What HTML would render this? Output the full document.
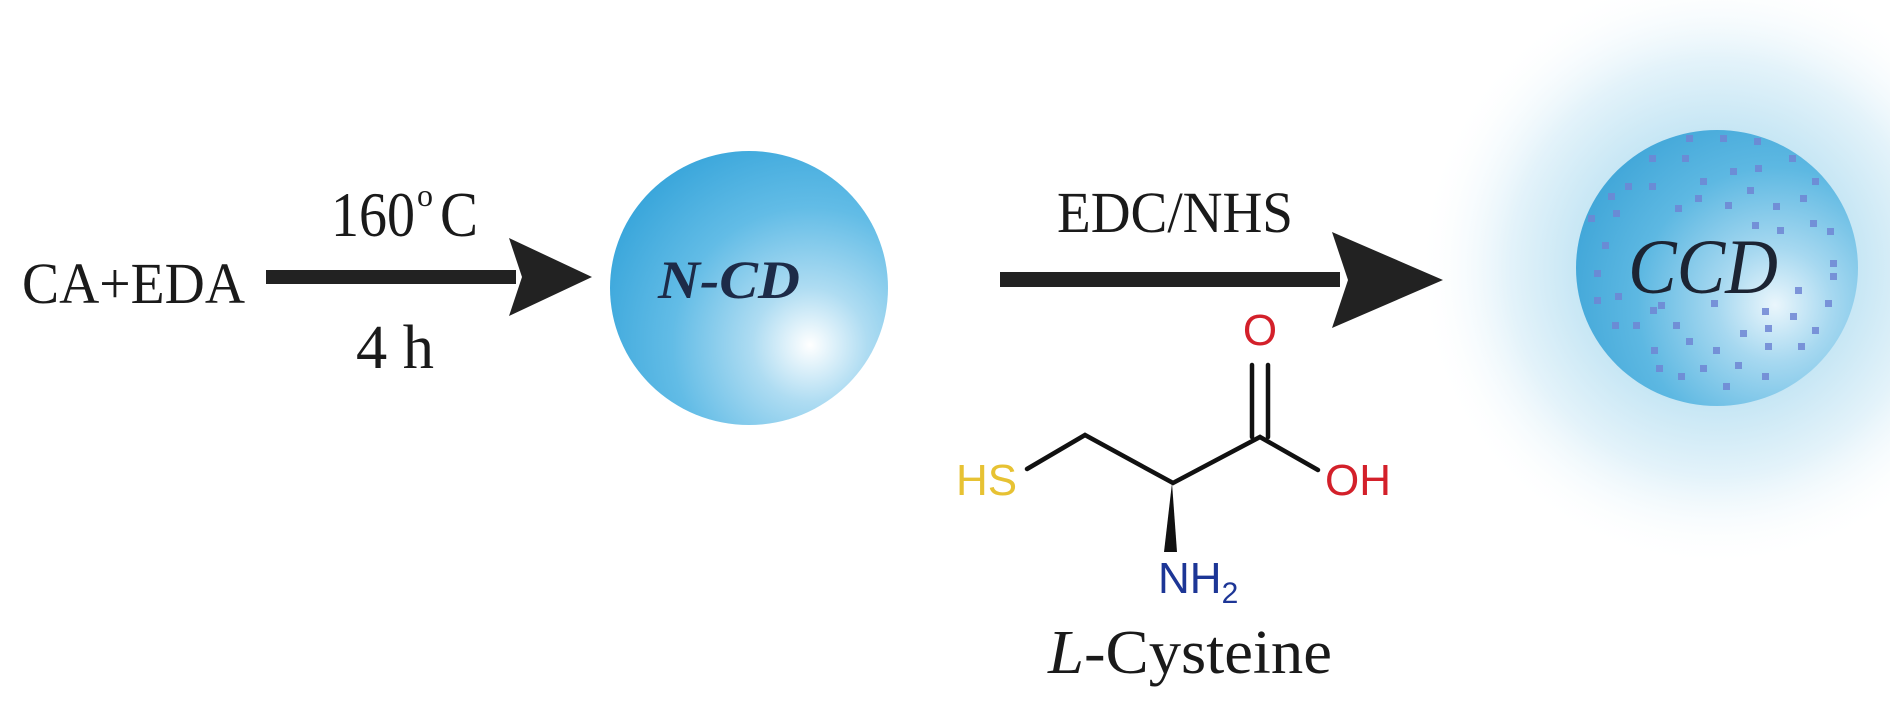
<!DOCTYPE html>
<html><head><meta charset="utf-8"><style>html,body{margin:0;padding:0;background:#fff;}svg{display:block}</style></head>
<body>
<svg width="1890" height="709" viewBox="0 0 1890 709" xmlns="http://www.w3.org/2000/svg">
<defs>
<radialGradient id="g1" cx="810" cy="345" r="230" gradientUnits="userSpaceOnUse">
<stop offset="0" stop-color="#ffffff"/><stop offset="0.25" stop-color="#aedcf2"/><stop offset="0.6" stop-color="#62bce6"/><stop offset="1" stop-color="#36a4da"/></radialGradient>
<radialGradient id="g2" cx="1775" cy="305" r="230" gradientUnits="userSpaceOnUse">
<stop offset="0" stop-color="#eaf6fc"/><stop offset="0.25" stop-color="#a6d8f0"/><stop offset="0.6" stop-color="#5db8e2"/><stop offset="1" stop-color="#3aa2d6"/></radialGradient>
<radialGradient id="halo" cx="1717" cy="268" r="300" gradientUnits="userSpaceOnUse">
<stop offset="0.4" stop-color="#bfe3f3"/><stop offset="0.7" stop-color="#e4f3fa"/><stop offset="1" stop-color="#ffffff" stop-opacity="0"/></radialGradient>
</defs>
<circle cx="1717" cy="268" r="300" fill="url(#halo)"/>
<g font-family="Liberation Serif, serif" fill="#1a1a1a">
<text x="22" y="303" font-size="58" textLength="223" lengthAdjust="spacingAndGlyphs">CA+EDA</text>
<text x="331" y="236" font-size="64" textLength="84" lengthAdjust="spacingAndGlyphs">160</text>
<text x="417" y="206" font-size="32">o</text>
<text x="440" y="236" font-size="64" textLength="38" lengthAdjust="spacingAndGlyphs">C</text>
<text x="356" y="368" font-size="62" textLength="78" lengthAdjust="spacingAndGlyphs">4 h</text>
<text x="1057" y="232" font-size="58" textLength="236" lengthAdjust="spacingAndGlyphs">EDC/NHS</text>
<text x="1048" y="673" font-size="62" textLength="284" lengthAdjust="spacingAndGlyphs"><tspan font-style="italic">L</tspan>-Cysteine</text>
</g>
<rect x="266" y="270" width="250" height="14" fill="#222"/>
<polygon points="509,238 592,277 509,316 522,277" fill="#222"/>
<rect x="1000" y="272" width="340" height="15" fill="#222"/>
<polygon points="1332,232 1443,280 1332,328 1348,280" fill="#222"/>
<ellipse cx="749" cy="288" rx="139" ry="137" fill="url(#g1)"/>
<text x="658" y="298" font-family="Liberation Serif, serif" font-style="italic" font-weight="bold" font-size="54" fill="#1d2b48" textLength="142" lengthAdjust="spacingAndGlyphs">N-CD</text>
<ellipse cx="1717" cy="268" rx="141" ry="138" fill="url(#g2)"/>
<g fill="#6f86d4" opacity="0.85">
<rect x="1686" y="135" width="7" height="7"/><rect x="1720" y="135" width="7" height="7"/><rect x="1754" y="138" width="7" height="7"/><rect x="1649" y="155" width="7" height="7"/><rect x="1682" y="155" width="7" height="7"/><rect x="1789" y="155" width="7" height="7"/><rect x="1730" y="168" width="7" height="7"/><rect x="1755" y="165" width="7" height="7"/><rect x="1625" y="183" width="7" height="7"/><rect x="1649" y="183" width="7" height="7"/><rect x="1700" y="178" width="7" height="7"/><rect x="1812" y="178" width="7" height="7"/><rect x="1608" y="193" width="7" height="7"/><rect x="1747" y="187" width="7" height="7"/><rect x="1695" y="195" width="7" height="7"/><rect x="1800" y="195" width="7" height="7"/><rect x="1613" y="210" width="7" height="7"/><rect x="1675" y="205" width="7" height="7"/><rect x="1725" y="202" width="7" height="7"/><rect x="1773" y="203" width="7" height="7"/><rect x="1588" y="215" width="7" height="7"/><rect x="1752" y="222" width="7" height="7"/><rect x="1777" y="227" width="7" height="7"/><rect x="1810" y="220" width="7" height="7"/><rect x="1827" y="228" width="7" height="7"/><rect x="1602" y="242" width="7" height="7"/><rect x="1830" y="260" width="7" height="7"/><rect x="1830" y="273" width="7" height="7"/><rect x="1594" y="270" width="7" height="7"/><rect x="1795" y="287" width="7" height="7"/><rect x="1615" y="293" width="7" height="7"/><rect x="1594" y="297" width="7" height="7"/><rect x="1711" y="300" width="7" height="7"/><rect x="1825" y="300" width="7" height="7"/><rect x="1762" y="308" width="7" height="7"/><rect x="1790" y="313" width="7" height="7"/><rect x="1650" y="307" width="7" height="7"/><rect x="1658" y="302" width="7" height="7"/><rect x="1612" y="322" width="7" height="7"/><rect x="1633" y="322" width="7" height="7"/><rect x="1673" y="322" width="7" height="7"/><rect x="1765" y="325" width="7" height="7"/><rect x="1740" y="330" width="7" height="7"/><rect x="1812" y="327" width="7" height="7"/><rect x="1686" y="338" width="7" height="7"/><rect x="1651" y="347" width="7" height="7"/><rect x="1713" y="347" width="7" height="7"/><rect x="1765" y="343" width="7" height="7"/><rect x="1798" y="343" width="7" height="7"/><rect x="1656" y="365" width="7" height="7"/><rect x="1700" y="365" width="7" height="7"/><rect x="1735" y="362" width="7" height="7"/><rect x="1678" y="373" width="7" height="7"/><rect x="1762" y="373" width="7" height="7"/><rect x="1723" y="383" width="7" height="7"/>
</g>
<text x="1628" y="293" font-family="Liberation Serif, serif" font-style="italic" font-size="78" fill="#1c2433" textLength="150" lengthAdjust="spacingAndGlyphs">CCD</text>
<g stroke="#111" stroke-width="4.5" fill="none" stroke-linecap="round">
<polyline points="1027,469 1085,435 1173,483 1260,437 1318,470"/>
<line x1="1252" y1="365" x2="1252" y2="437"/>
<line x1="1268" y1="365" x2="1268" y2="437"/>
</g>
<polygon points="1172,483 1164,552 1177,552" fill="#111"/>
<g font-family="Liberation Sans, sans-serif" font-size="44">
<text x="1260" y="345" fill="#d3202a" text-anchor="middle">O</text>
<text x="1325" y="495" fill="#d3202a">OH</text>
<text x="956" y="495" fill="#e7c233">HS</text>
<text x="1158" y="593" fill="#1d3696">NH<tspan font-size="30" dy="10">2</tspan></text>
</g>
</svg>
</body></html>
